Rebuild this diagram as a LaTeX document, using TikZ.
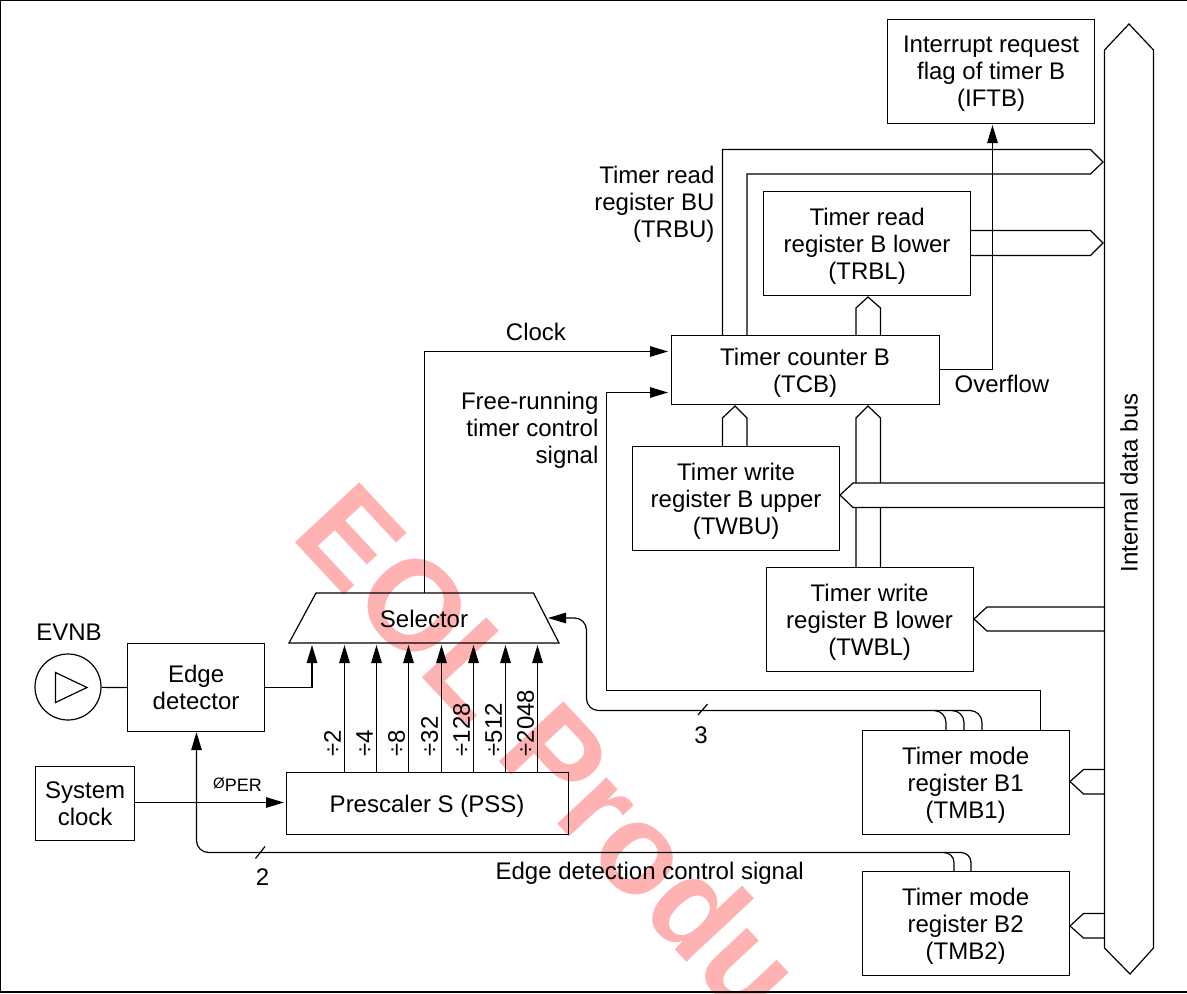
\documentclass[tikz,border=0pt]{standalone}
\usepackage{fontspec}
\setmainfont{Liberation Sans}
\usetikzlibrary{arrows.meta}

\begin{document}
\begin{tikzpicture}[
    x=1pt, y=-1pt,
    line width=1.2pt,
    >={Triangle[length=18pt,width=10.5pt]},
    every node/.style = {font=\fontsize{24}{27}\selectfont, inner sep=0pt},
    box/.style = {draw, align=center, anchor=north west, text depth=0pt},
    reg/.style = {box, minimum width=207pt, minimum height=104pt},
    tag/.style = {align=center},
    rtag/.style = {align=right, anchor=east},
    div/.style = {rotate=90, anchor=west},
    link/.style = {rounded corners=12pt}
  ]
  \useasboundingbox (0,0) rectangle (1187,994);
  \begin{scope}
    \clip (0,0) rectangle (1187,994);
    \node[rotate=-47, anchor=west, text=red!30, font=\fontsize{128}{128}\selectfont\bfseries] (watermark) at (323,505) {EOL Product};
  \end{scope}
  \draw[line width=1.6pt] (0.5,0.5) rectangle (1189,992);

  % registers
  \node[reg] (iftb) at (887,19) {Interrupt request\\flag of timer B\\(IFTB)};
  \node[reg] (trbl) at (763,191) {Timer read\\register B lower\\(TRBL)};
  \node[box, minimum width=268pt, minimum height=69pt] (tcb) at (670.5,335) {Timer counter B\\(TCB)};
  \node[reg] (twbu) at (632,446) {Timer write\\register B upper\\(TWBU)};
  \node[reg] (twbl) at (765.5,567) {Timer write\\register B lower\\(TWBL)};
  \node[reg] (tmb1) at (861.5,730) {Timer mode\\register B1\\(TMB1)};
  \node[reg] (tmb2) at (861.5,871) {Timer mode\\register B2\\(TMB2)};
  \node[box, minimum width=137pt, minimum height=88pt] (edge) at (127,643) {Edge\\detector};
  \node[box, minimum width=99pt, minimum height=74pt] (sysclock) at (35,766) {System\\clock};
  \node[box, minimum width=282pt, minimum height=62pt] (pss) at (285.5,772) {Prescaler S (PSS)};

  % selector and pin
  \draw (316,593) -- (533.5,593) -- (559,643) -- (289,643) -- cycle;
  \node (selector) at (424,619) {Selector};
  \coordinate (sel out) at (424.5,593);
  \coordinate (sel in) at (548,618);
  \node[draw, circle, minimum size=66pt] (evnb pin) at (68,687) {};
  \draw (55.5,672.5) -- (87,687.5) -- (55.5,702.5) -- cycle;
  \node (evnb) at (69,632) {EVNB};

  % arrows in the register block
  \coordinate (bus left) at (1104.5,483);
  \draw (tcb.north -| 722.5,0) -- (722.5,149.5) -- (1090.5,149.5) -- (1103,162) -- (1090.5,174) -- (747,174) -- (tcb.north -| 747,0);
  \draw (trbl.east |- 0,230.5) -- (1090.5,230.5) -- (1103,243) -- (1090.5,255.5) -- (trbl.east |- 0,255.5);
  \draw (tcb.north -| 856,0) -- (856,308) -- (868,297) -- (880.5,308) -- (tcb.north -| 880.5,0);
  \draw (twbu.north -| 722.5,0) -- (722.5,418) -- (735,406) -- (747,418) -- (twbu.north -| 747,0);
  \draw (twbl.north -| 856,0) -- (856,418) -- (868,406) -- (880.5,418) -- (twbl.north -| 880.5,0);
  \draw[fill=white] (bus left |- 0,483) -- (853,483) -- (840,495) -- (853,507.5) -- (bus left |- 0,507.5);
  \draw (bus left |- 0,607) -- (987,607) -- (974,619) -- (987,631) -- (bus left |- 0,631);
  \draw (bus left |- 0,769.5) -- (1083.5,769.5) -- (1070,781.5) -- (1083.5,794) -- (bus left |- 0,794);
  \draw (bus left |- 0,913.5) -- (1083.5,913.5) -- (1070,926) -- (1083.5,938) -- (bus left |- 0,938);

  % internal data bus
  \draw (1104.5,50) -- (1129,24) -- (1153.5,50) -- (1153.5,948) -- (1130,974) -- (1104.5,948) -- cycle;
  \node[rotate=90] (data bus) at (1129,483) {Internal data bus};

  % signals
  \draw[->] (tcb.east |- 0,369.5) -| (992.5,125);
  \draw[->] (sel out) |- (668,351.5);
  \draw[->] (tmb1.north -| 1040.5,0) |- (606.5,690.5) |- (668,392.5);
  \draw[->] (edge.east) -| (312,645);
  \draw (evnb pin) -- (edge.west);
  \draw[->] (sysclock.east |- 0,802.5) -- (284,802.5);
  \foreach \xpos/\divname/\divtext in {344.5/a/2, 376.5/b/4, 408.5/c/8, 441.5/d/32, 473.5/e/128, 505.5/f/512, 537.5/g/2048} {
    \draw[->] (pss.north -| \xpos,0) -- (\xpos,645);
    \node[div] (div \divname) at (\xpos-12,757) {÷\divtext};
  }

  % bundle to the selector
  \draw[->, link] (970,710.5) -- (586.5,710.5) -- (586.5,618) -- (sel in);
  \draw (934,710.5) arc[start angle=90, end angle=0, radius=12pt] -- (tmb1.north -| 946,0);
  \draw (952,710.5) arc[start angle=90, end angle=0, radius=12pt] -- (tmb1.north -| 964,0);
  \draw (970,710.5) arc[start angle=90, end angle=0, radius=12pt] -- (tmb1.north -| 982,0);
  \coordinate (tick a) at (698,715);
  \coordinate (tick b) at (707.5,704);
  \draw (tick a) -- (tick b);

  % bundle to the edge detector
  \draw[->, link] (961,852.5) -- (196.5,852.5) -- (edge.south -| 196.5,0);
  \draw (944,852.5) arc[start angle=90, end angle=0, radius=10pt] -- (tmb2.north -| 954,0);
  \draw (961,852.5) arc[start angle=90, end angle=0, radius=10pt] -- (tmb2.north -| 971,0);
  \coordinate (tick c) at (255.5,858.5);
  \coordinate (tick d) at (265,846.5);
  \draw (tick c) -- (tick d);

  % labels
  \node[rtag] (trbu) at (715,204.5) {Timer read\\register BU\\(TRBU)};
  \node[rtag] (free run) at (599,430) {Free-running\\timer control\\signal};
  \node[tag] (clock) at (536,332) {Clock};
  \node[anchor=west] (overflow) at (954,384) {Overflow};
  \node[anchor=west] (edge ctrl) at (495,873) {Edge detection control signal};
  \node[tag] (three) at (701,735) {3};
  \node[tag] (two) at (262.5,877) {2};
  \node[tag, font=\fontsize{18}{18}\selectfont] (per) at (237.5,785) {\raisebox{3pt}{\fontsize{15}{15}\selectfont Ø}PER};
\end{tikzpicture}
\end{document}
